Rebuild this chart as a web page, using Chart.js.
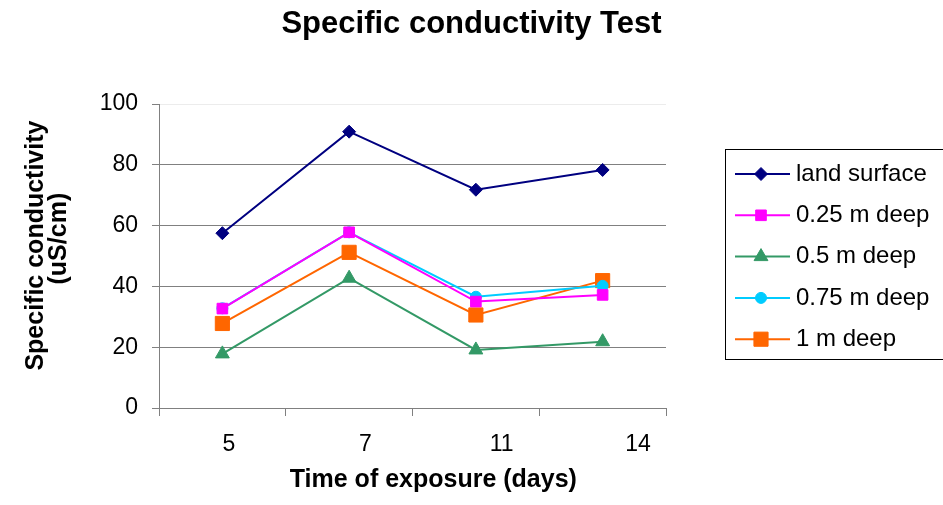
<!DOCTYPE html>
<html><head><meta charset="utf-8">
<script src="https://cdn.jsdelivr.net/npm/chart.js@4.4.1/dist/chart.umd.min.js"></script>
<style>html,body{margin:0;padding:0;background:#fff;} canvas{display:block;}</style>
</head><body>
<canvas id="c" width="943" height="505"></canvas>
<script>
// ---- data ----
const days = ['5', '7', '11', '14'];
const seriesNames = ['land surface', '0.25 m deep', '0.5 m deep', '0.75 m deep', '1 m deep'];
const landSurface = [57.5, 90.9, 71.8, 78.3];
const deep025 = [32.7, 57.8, 35.0, 37.2];
const deep05 = [17.8, 42.7, 19.1, 21.8];
const deep075 = [32.8, 57.8, 36.6, 40.2];
const deep1 = [27.8, 51.2, 30.6, 41.9];
const yTicks = [0, 20, 40, 60, 80, 100];

const FONT = "'Liberation Sans', Arial, sans-serif";

function series(label, data, color, style, radius) {
  return {
    label, data,
    borderColor: color, backgroundColor: color,
    pointBackgroundColor: color, pointBorderColor: color,
    pointStyle: style, pointRadius: radius, pointHoverRadius: radius,
    borderWidth: 2, pointBorderWidth: 1, tension: 0, fill: false,
    xAxisID: 'x', yAxisID: 'y'
  };
}

const legendPlugin = {
  id: 'boxLegend',
  afterDraw(chart) {
    const ctx = chart.ctx;
    ctx.save();
    ctx.strokeStyle = '#000';
    ctx.lineWidth = 1;
    ctx.strokeRect(725.5, 149.5, 222, 210);
    chart.data.datasets.forEach((ds, i) => {
      const y = 174 + i * 41.3;
      ctx.strokeStyle = ds.borderColor;
      ctx.lineWidth = 2;
      ctx.beginPath(); ctx.moveTo(735, y); ctx.lineTo(790, y); ctx.stroke();
      ctx.fillStyle = ds.pointBackgroundColor;
      ctx.strokeStyle = ds.pointBorderColor;
      ctx.lineWidth = 1;
      Chart.helpers.drawPoint(ctx, {pointStyle: ds.pointStyle, radius: ds.pointRadius, rotation: 0, borderWidth: 1}, 761, y);
      ctx.fillStyle = '#000';
      ctx.font = '24px ' + FONT;
      ctx.textBaseline = 'middle';
      ctx.textAlign = 'left';
      ctx.fillText(ds.label, 796, y);
    });
    ctx.restore();
  }
};

new Chart(document.getElementById('c'), {
  type: 'line',
  data: {
    labels: days,
    datasets: [
      series(seriesNames[0], landSurface, '#000080', 'rectRot', 6.5),
      series(seriesNames[1], deep025, '#FF00FF', 'rect', 7.5),
      series(seriesNames[2], deep05, '#339966', 'triangle', 8),
      series(seriesNames[3], deep075, '#00CCFF', 'circle', 5.5),
      series(seriesNames[4], deep1, '#FF6600', 'rect', 10)
    ]
  },
  options: {
    responsive: false,
    devicePixelRatio: 1,
    animation: false,
    events: [],
    layout: {padding: {left: 0, right: 0, top: 0, bottom: 0}},
    plugins: {
      legend: {display: false},
      tooltip: {enabled: false},
      title: {
        display: true, text: 'Specific conductivity Test', color: '#000',
        font: {size: 31, weight: 'bold', family: FONT},
        padding: {top: 6, bottom: 60.8}
      }
    },
    scales: {
      x: {
        type: 'category', position: 'bottom', offset: true, weight: 0,
        grid: {display: true, drawOnChartArea: false, drawTicks: true, tickLength: 8, offset: true, color: '#808080', lineWidth: 1},
        border: {display: true, color: '#808080', width: 1},
        ticks: {display: false},
        afterFit(s) { s.height = 8; }
      },
      x2: {
        type: 'linear', position: 'bottom', weight: 1, min: -0.5135, max: 3.2055,
        afterBuildTicks(s) { s.ticks = days.map((d, i) => ({value: i})); },
        ticks: {callback: (v) => days[v], font: {size: 23, family: FONT}, color: '#000', padding: 15, maxRotation: 0, autoSkip: false},
        grid: {display: false, drawTicks: false},
        border: {display: false},
        title: {display: true, text: '      Time of exposure (days)', color: '#000',
          font: {size: 25, weight: 'bold', family: FONT}, padding: {top: 0, bottom: 10}},
        afterFit(s) { s.height = 89; }
      },
      y: {
        position: 'left', min: 0, max: 100,
        afterBuildTicks(s) { s.ticks = yTicks.map(v => ({value: v})); },
        ticks: {font: {size: 23, family: FONT}, color: '#000', padding: 14},
        grid: {
          color: (c) => c.tick && c.tick.value === 0 ? 'rgba(0,0,0,0)' : (c.tick && c.tick.value === 100 ? '#ececec' : '#808080'),
          tickColor: '#808080', tickLength: 7, lineWidth: 1
        },
        border: {display: true, color: '#808080', width: 1},
        title: {display: true, text: ['   Specific conductivity', '     (uS/cm)'], color: '#000',
          font: {size: 25, weight: 'bold', family: FONT, lineHeight: 0.94}, padding: {top: 24, bottom: 0}},
        afterFit(s) { s.width = 159; }
      },
      y2: {
        position: 'right', display: true,
        grid: {display: false, drawTicks: false},
        ticks: {display: false},
        border: {display: false},
        afterFit(s) { s.width = 277; }
      }
    }
  },
  plugins: [legendPlugin]
});
</script>
</body></html>
